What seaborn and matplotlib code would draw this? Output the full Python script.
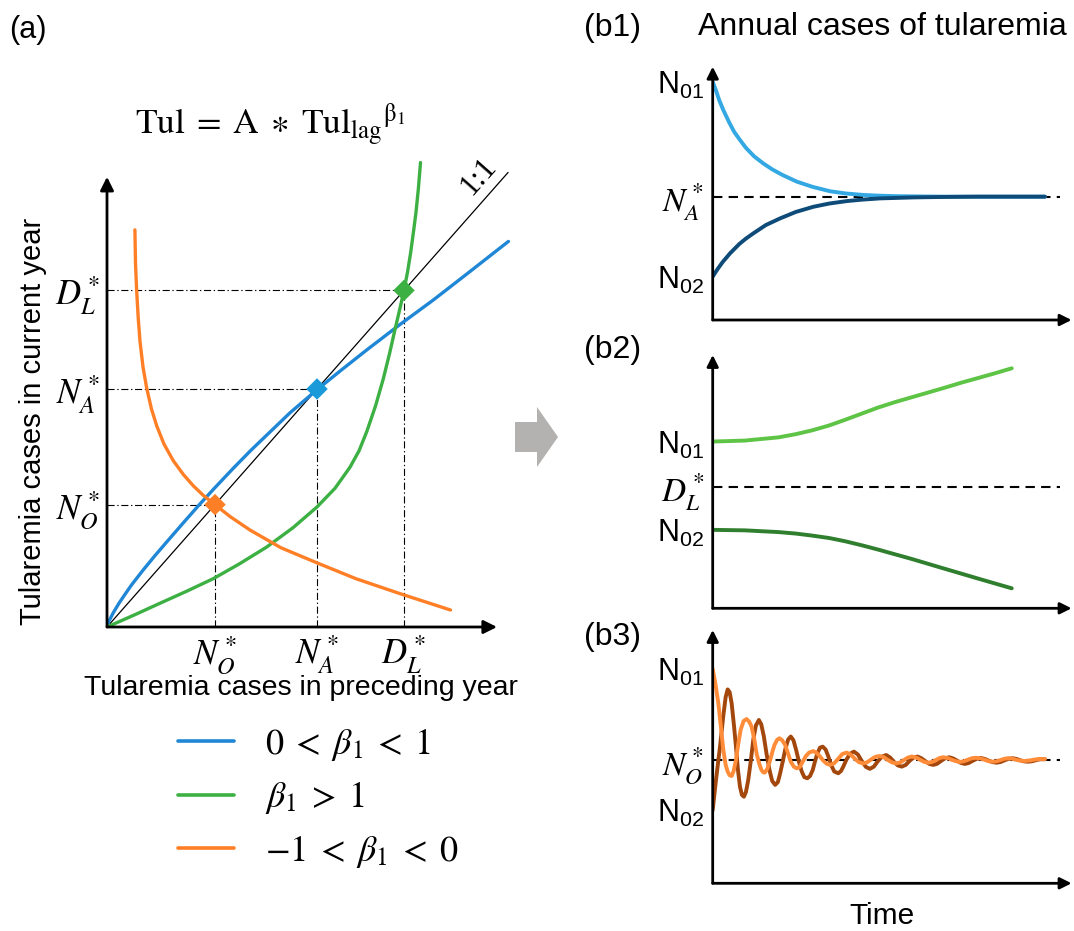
import numpy as np
import pandas as pd
import matplotlib
matplotlib.use("Agg")
import matplotlib.pyplot as plt
import seaborn as sns
from matplotlib.lines import Line2D
from matplotlib.patches import Polygon

# ---------------- data ----------------
# Panel (a): current-year cases vs preceding-year cases
eq_names = [r"$N_O^*$", r"$N_A^*$", r"$D_L^*$"]
eq_values = [3.6, 7.0, 9.9]          # N_O*, N_A*, D_L*

blue_x = [0, 0.05, 0.21, 0.4, 0.6, 0.82, 1.2, 1.6, 1.99, 2.5, 3.1, 3.6, 4.2, 4.8,
          5.32, 6.1, 7.0, 7.8, 8.66, 9.77, 10.88, 11.99, 13.38]
blue_y = [0, 0.15, 0.42, 0.70, 0.96, 1.24, 1.67, 2.10, 2.50, 3.02, 3.62, 4.10, 4.66, 5.20,
          5.64, 6.30, 6.98, 7.55, 8.15, 8.90, 9.62, 10.38, 11.34]

green_x = [0, 0.9, 1.77, 2.65, 3.54, 4.4, 5.32, 6.2, 7.0, 7.6, 8.1, 8.4, 8.66, 8.95, 9.21,
           9.42, 9.6, 9.76, 9.9, 10.02, 10.12, 10.22, 10.3, 10.38, 10.45]
green_y = [0, 0.35, 0.70, 1.05, 1.42, 1.85, 2.35, 2.92, 3.53, 4.08, 4.70, 5.18, 5.75, 6.50, 7.30,
           8.05, 8.75, 9.35, 9.9, 10.45, 11.0, 11.65, 12.2, 12.9, 13.66]

orange_x = [0.93, 0.95, 0.99, 1.04, 1.1, 1.2, 1.32, 1.48, 1.66, 1.9, 2.21, 2.55, 2.88, 3.2,
            3.6, 4.1, 4.77, 5.8, 6.99, 8.3, 9.77, 11.45]
orange_y = [11.68, 10.7, 9.87, 9.1, 8.40, 7.65, 7.04, 6.42, 5.91, 5.38, 4.89, 4.48, 4.15, 3.88,
            3.6, 3.25, 2.85, 2.33, 1.89, 1.42, 0.98, 0.50]

one_to_one = [0, 13.37]

legend_labels = [r"$0\;<\;\beta_1\;<\;1$", r"$\beta_1\;>\;1$", r"$-1\;<\;\beta_1\;<\;0$"]

# Panel (b1)
b1_t_high = [0, 0.1, 0.2, 0.32, 0.5, 0.65, 0.82, 1.0, 1.25, 1.52, 1.8, 2.1, 2.53, 3.0,
             3.53, 4.0, 4.53, 5.0, 5.54, 6.2, 7.04, 8, 9, 10]
b1_high = [9.66, 9.3, 8.9, 8.51, 8.0, 7.62, 7.30, 6.98, 6.63, 6.35, 6.10, 5.88, 5.61, 5.40,
           5.22, 5.13, 5.07, 5.04, 5.02, 5.01, 5.0, 5.0, 5.0, 5.0]
b1_t_low = [0, 0.15, 0.3, 0.52, 0.8, 1.0, 1.22, 1.6, 2.03, 2.5, 3.03, 3.5, 4.03, 4.5,
            5.04, 6.04, 7, 8, 9, 10]
b1_low = [1.76, 2.07, 2.35, 2.70, 3.08, 3.30, 3.51, 3.85, 4.12, 4.38, 4.59, 4.72, 4.82, 4.88,
          4.93, 4.97, 4.99, 5.0, 5.0, 5.0]
b1_eq = 5.0

# Panel (b2)
b2_t_high = [0, 0.97, 1.98, 2.5, 2.98, 3.5, 3.98, 4.5, 4.98, 5.49, 6.0, 6.49, 7.0, 7.49,
             8.0, 8.5, 9.0]
b2_high = [6.76, 6.80, 6.93, 7.06, 7.21, 7.41, 7.64, 7.90, 8.14, 8.36, 8.56, 8.75, 8.95, 9.15,
           9.34, 9.53, 9.73]
b2_t_low = [0, 0.97, 1.98, 2.5, 2.98, 3.5, 3.98, 4.5, 4.98, 5.99, 6.99, 8.0, 9.0]
b2_low = [3.18, 3.16, 3.09, 3.03, 2.95, 2.85, 2.72, 2.55, 2.38, 2.00, 1.60, 1.20, 0.81]
b2_eq = 4.93

# Panel (b3)
b3_t_orange = [0, 0.08, 0.17, 0.25, 0.32, 0.39, 0.45, 0.51, 0.57, 0.63, 0.70, 0.77, 0.84,
               0.93, 1.02, 1.10, 1.17, 1.25, 1.32, 1.40, 1.47, 1.52, 1.57, 1.65, 1.73,
               1.80, 1.86, 1.94, 2.01, 2.09, 2.18, 2.27, 2.35, 2.44, 2.53, 2.62, 2.71,
               2.80, 2.90, 3.03, 3.13, 3.23, 3.33, 3.43, 3.53, 3.65, 3.78, 3.90, 4.03,
               4.15, 4.28, 4.40, 4.53, 4.65, 4.78, 4.90, 5.02, 5.14, 5.27, 5.40, 5.52,
               5.64, 5.76, 5.88, 5.99, 6.12, 6.24, 6.37, 6.49, 6.60, 6.72, 6.83, 6.94,
               7.07, 7.19, 7.32, 7.44, 7.56, 7.68, 7.80, 7.92, 8.05, 8.18, 8.30, 8.43,
               8.55, 8.67, 8.78, 8.90, 9.02, 9.15, 9.27, 9.40, 9.55, 9.70, 9.85, 10]
b3_orange = [8.68, 8.10, 7.30, 6.30, 5.41, 4.80, 4.53, 4.38, 4.35, 4.55, 5.00, 5.65, 6.22,
             6.58, 6.66, 6.55, 6.35, 5.85, 5.27, 4.85, 4.59, 4.50, 4.49, 4.65, 5.00,
             5.35, 5.61, 5.82, 5.88, 5.80, 5.61, 5.25, 4.93, 4.73, 4.66, 4.72, 4.93,
             5.15, 5.30, 5.36, 5.28, 5.14, 4.97, 4.85, 4.80, 4.86, 5.05, 5.24, 5.30,
             5.22, 5.05, 4.91, 4.86, 4.91, 5.03, 5.13, 5.16, 5.12, 5.00, 4.90, 4.86,
             4.90, 5.00, 5.10, 5.14, 5.10, 5.01, 4.92, 4.89, 4.92, 5.00, 5.08, 5.11,
             5.08, 5.01, 4.95, 4.92, 4.95, 5.01, 5.07, 5.09, 5.06, 5.01, 4.95, 4.93,
             4.95, 5.00, 5.05, 5.07, 5.05, 5.00, 4.97, 4.96, 4.98, 5.02, 5.04, 5.04]
b3_t_brown = [0, 0.10, 0.22, 0.32, 0.39, 0.45, 0.51, 0.57, 0.64, 0.70, 0.76, 0.82, 0.88,
              0.94, 1.00, 1.07, 1.15, 1.22, 1.30, 1.39, 1.46, 1.54, 1.62, 1.71, 1.79,
              1.88, 1.96, 2.03, 2.11, 2.18, 2.27, 2.35, 2.43, 2.51, 2.60, 2.68, 2.76,
              2.85, 2.93, 3.01, 3.08, 3.15, 3.23, 3.31, 3.40, 3.48, 3.57, 3.66, 3.78,
              3.86, 3.93, 4.02, 4.13, 4.25, 4.37, 4.49, 4.61, 4.73, 4.85, 4.97, 5.10,
              5.22, 5.34, 5.45, 5.57, 5.69, 5.81, 5.93, 6.05, 6.16, 6.28, 6.40, 6.52,
              6.64, 6.76, 6.88, 7.00, 7.12, 7.24, 7.36, 7.47, 7.59, 7.71, 7.83, 7.95,
              8.07, 8.19, 8.31, 8.43, 8.55, 8.67, 8.79, 8.91, 9.03, 9.15, 9.27, 9.38,
              9.50, 9.62, 9.75, 9.87, 10]
b3_brown = [2.97, 4.20, 5.54, 6.80, 7.55, 7.86, 7.75, 7.30, 6.40, 5.54, 4.60, 3.92, 3.58,
            3.51, 3.70, 4.19, 5.00, 5.81, 6.40, 6.62, 6.45, 5.95, 5.25, 4.59, 4.15,
            3.99, 4.10, 4.46, 4.95, 5.41, 5.83, 5.95, 5.80, 5.41, 4.90, 4.53, 4.30,
            4.26, 4.35, 4.59, 4.95, 5.27, 5.50, 5.54, 5.42, 5.14, 4.78, 4.53, 4.46,
            4.55, 4.73, 5.00, 5.25, 5.34, 5.22, 4.95, 4.72, 4.64, 4.73, 4.95, 5.14,
            5.20, 5.10, 4.93, 4.78, 4.73, 4.80, 4.97, 5.10, 5.14, 5.07, 4.95, 4.84,
            4.80, 4.85, 4.97, 5.07, 5.11, 5.06, 4.97, 4.88, 4.84, 4.88, 4.97, 5.05,
            5.08, 5.04, 4.97, 4.91, 4.89, 4.92, 4.99, 5.05, 5.07, 5.04, 4.98, 4.94,
            4.93, 4.95, 5.00, 5.03, 5.03]
b3_eq = 5.0

# ---------------- style ----------------
sns.set_theme(style="white")
plt.rcParams["font.family"] = ["Liberation Sans", "DejaVu Sans"]
plt.rcParams["mathtext.fontset"] = "stix"
for k in ["text.color", "axes.labelcolor", "xtick.color", "ytick.color"]:
    plt.rcParams[k] = "black"

BLUE, GREEN, ORANGE = "#1f87d6", "#3cb043", "#ff7f27"
MK_BLUE = "#1a9ad8"

W, H = 1074, 931
fig = plt.figure(figsize=(W / 100, H / 100), dpi=100)


def add_axes_px(x0, y0, w, h):
    return fig.add_axes([x0 / W, 1 - y0 / H, w / W, h / H])


def clean(ax):
    for s in ax.spines.values():
        s.set_visible(False)
    ax.set_facecolor("none")
    ax.grid(False)
    ax.tick_params(length=0)


def axis_arrows(ax, xmax, ymax, ms=18, lw=2.0):
    kw = dict(arrowstyle="-|>", lw=lw, color="black", shrinkA=0, shrinkB=0,
              mutation_scale=ms)
    ax.annotate("", xy=(xmax, 0), xytext=(0, 0), arrowprops=kw, annotation_clip=False)
    ax.annotate("", xy=(0, ymax), xytext=(0, 0), arrowprops=kw, annotation_clip=False)


# ---------------- panel (a) ----------------
axA = add_axes_px(107, 627, 420, 476)
axA.set_xlim(0, 14)
axA.set_ylim(0, 14)
clean(axA)

dashdot = (0, (6.4, 2.4, 1.2, 2.4))
for v in eq_values:
    axA.plot([0, v], [v, v], color="black", lw=0.8, ls=dashdot, zorder=1)
    axA.plot([v, v], [0, v], color="black", lw=0.8, ls=dashdot, zorder=1)

axA.plot(one_to_one, one_to_one, color="black", lw=0.9, zorder=2)
for xs, ys, c in [(blue_x, blue_y, BLUE), (green_x, green_y, GREEN), (orange_x, orange_y, ORANGE)]:
    sns.lineplot(x=xs, y=ys, ax=axA, color=c, lw=2.4, sort=False, estimator=None, zorder=3)

axA.scatter(eq_values, eq_values, marker="D", s=120, c=[ORANGE, MK_BLUE, GREEN],
            edgecolors="none", zorder=5)

axA.text(12.4, 13.25, "1:1", rotation=48.6, fontsize=22, family="Liberation Serif",
         ha="center", va="center", rotation_mode="anchor")

axA.set_xticks(eq_values, eq_names, fontsize=25)
axA.set_yticks(eq_values, eq_names, fontsize=25)
axA.tick_params(axis="x", pad=5)
axA.tick_params(axis="y", pad=5)
axis_arrows(axA, 13.0, 13.24, ms=20)

axA.set_xlabel("Tularemia cases in preceding year", fontsize=20.5)
axA.xaxis.set_label_coords(0.462, -0.100)
axA.set_ylabel("Tularemia cases in current year", fontsize=21)
axA.yaxis.set_label_coords(-0.143, 0.431)

fig.text(270 / W, 1 - 125 / H,
         r"$\mathrm{Tul}\;=\;\mathrm{A}\;\ast\;\mathrm{Tul}_{\mathrm{lag}}{}^{\mathrm{\beta}_1}$",
         fontsize=25.5, ha="center", va="center")
fig.text(28 / W, 1 - 30 / H, "(a)", fontsize=22, ha="center", va="center")

handles = [Line2D([], [], color=c, lw=2.6) for c in (BLUE, GREEN, ORANGE)]
fig.legend(handles, legend_labels, loc="upper left",
           bbox_to_anchor=(178 / W, 1 - 726 / H), frameon=False, fontsize=26,
           handlelength=1.55, handletextpad=0.85, labelspacing=0.45,
           borderpad=0, borderaxespad=0)

# gray arrow between panels
arrow_px = [(515, 422), (537, 422), (537, 407), (558, 437), (537, 467), (537, 452), (515, 452)]
fig.add_artist(Polygon([(x / W, 1 - y / H) for x, y in arrow_px], closed=True,
                       transform=fig.transFigure, color="#b4b1b1", lw=0))

# ---------------- panels (b) ----------------
dashed = (0, (4.5, 3))


def b_panel(y0, t_hi, v_hi, c_hi, t_lo, v_lo, c_lo, eq, eq_label, order_hi_first=True):
    ax = add_axes_px(712.7, y0, 365.5, 259)
    ax.set_xlim(0, 11)
    ax.set_ylim(0, 10.5)
    clean(ax)
    ax.plot([0, 10.45], [eq, eq], color="black", lw=1.5, ls=dashed, zorder=1)
    pairs = [(t_hi, v_hi, c_hi), (t_lo, v_lo, c_lo)]
    if not order_hi_first:
        pairs = pairs[::-1]
    for t, v, c in pairs:
        sns.lineplot(x=t, y=v, ax=ax, color=c, lw=2.8, sort=False, estimator=None, zorder=2)
    ax.set_xticks([])
    ax.set_yticks([v_hi[0], eq, v_lo[0]],
                  [r"$\mathregular{N_{01}}$", eq_label, r"$\mathregular{N_{02}}$"])
    for i, lab in enumerate(ax.get_yticklabels()):
        lab.set_fontsize(24 if i == 1 else 22)
    ax.tick_params(axis="y", pad=6)
    axis_arrows(ax, 10.8, 10.27, ms=17)
    return ax


axb1 = b_panel(320, b1_t_high, b1_high, "#33a8e2", b1_t_low, b1_low, "#0e4b78", b1_eq, r"$N_A^*$")
axb2 = b_panel(608.3, b2_t_high, b2_high, "#5ec445", b2_t_low, b2_low, "#2f7f2f", b2_eq, r"$D_L^*$")
axb3 = b_panel(883.3, b3_t_orange, b3_orange, "#ff8c38", b3_t_brown, b3_brown, "#a3470d", b3_eq,
               r"$N_O^*$", order_hi_first=False)

axb3.set_xlabel("Time", fontsize=21.5)
axb3.xaxis.set_label_coords(0.463, -0.074)

fig.text(613 / W, 1 - 28 / H, "(b1)", fontsize=23, ha="center", va="center")
fig.text(613 / W, 1 - 350 / H, "(b2)", fontsize=23, ha="center", va="center")
fig.text(613 / W, 1 - 637 / H, "(b3)", fontsize=23, ha="center", va="center")
fig.text(882 / W, 1 - 27 / H, "Annual cases of tularemia", fontsize=23, ha="center", va="center")

fig.savefig("out.png", dpi=100)
